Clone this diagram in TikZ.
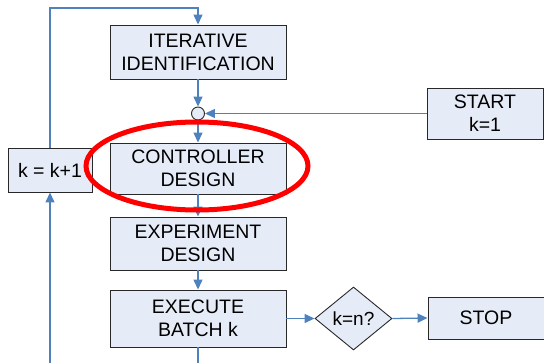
\documentclass[tikz,border=0pt]{standalone}
\usepackage{fontspec}
\setmainfont{Liberation Sans}
\usetikzlibrary{shapes.geometric,arrows.meta}
\definecolor{boxfill}{RGB}{230,236,247}
\definecolor{flow}{RGB}{79,129,189}
\definecolor{boxline}{RGB}{40,40,40}
\tikzset{
  stepbox/.style={draw=boxline,fill=boxfill,line width=0.9pt,align=center,inner sep=0pt,
    font=\fontsize{19.5}{23}\selectfont},
  decide/.style={diamond,draw=boxline,fill=boxfill,line width=0.9pt,inner sep=0pt,aspect=1.2,
    font=\fontsize{19}{23}\selectfont},
  flowline/.style={draw=flow,line width=1.3pt},
  flowarrow/.style={flowline,-{Triangle[length=10pt,width=9pt]}},
  junction/.style={circle,draw=boxline,fill=boxfill,line width=0.9pt,minimum size=13pt,inner sep=0pt}
}
\begin{document}
\begin{tikzpicture}[x=1pt,y=-1pt]
\useasboundingbox (0,0) rectangle (544,362);
\clip (0,0) rectangle (544,362);
\node[stepbox,minimum width=176pt,minimum height=54pt] (iter) at (198,52) {ITERATIVE\\IDENTIFICATION};
\node[junction] (sum) at (198,113.5) {};
\node[stepbox,minimum width=116pt,minimum height=51pt] (start) at (485,113.5) {START\\k=1};
\node[stepbox,minimum width=84pt,minimum height=44pt] (inc) at (50,170) {k = k+1};
\node[stepbox,minimum width=176pt,minimum height=51pt] (ctrl) at (198,168.5) {CONTROLLER\\DESIGN};
\node[stepbox,minimum width=176pt,minimum height=53pt] (exp) at (198,243.5) {EXPERIMENT\\DESIGN};
\node[stepbox,minimum width=176pt,minimum height=57pt] (exec) at (198,318.5) {EXECUTE\\BATCH k};
\node[decide,minimum width=77pt,minimum height=63pt] (test) at (353.5,318.5) {k=n?};
\node[stepbox,minimum width=116pt,minimum height=42pt] (stop) at (486,318) {STOP};
\coordinate (tl) at (50,8);
\coordinate (tr) at (198,8);
\coordinate (bl) at (50,380);
\coordinate (br) at (198,380);
\draw[flowarrow] (inc.north) -- (tl) -- (tr) -- (iter.north);
\draw[flowarrow] (iter.south) -- (sum.north);
\draw[flowarrow] (start.west) -- (sum.east);
\draw[flowarrow] (sum.south) -- (ctrl.north);
\draw[flowarrow] (ctrl.south) -- (exp.north);
\draw[flowarrow] (exp.south) -- (exec.north);
\draw[flowarrow] (exec.east |- test.west) -- (test.west);
\draw[flowarrow] (test.east) -- (stop.west);
\draw[flowarrow] (exec.south) -- (br) -- (bl) -- (inc.south);
\draw[red,line width=5pt] (197,166) ellipse [x radius=111pt,y radius=44pt];
\end{tikzpicture}
\end{document}
